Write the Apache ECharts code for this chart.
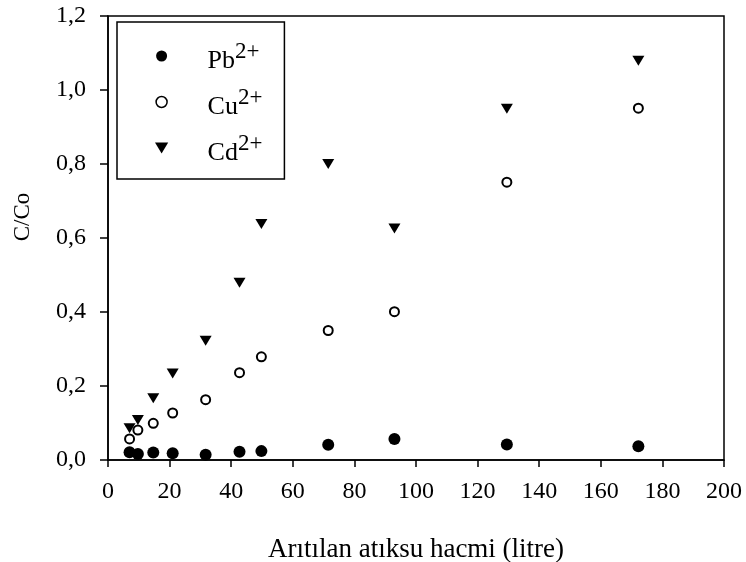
<!DOCTYPE html>
<html>
<head>
<meta charset="utf-8">
<script src="https://cdn.jsdelivr.net/npm/echarts@6/dist/echarts.min.js"></script>
<style>
html,body{margin:0;padding:0;background:#fff;}
#chart{width:746px;height:562px;}
</style>
</head>
<body>
<div id="chart"></div>
<script>
// ---- data ----
const volume = [7, 9.7, 14.7, 21, 31.7, 42.7, 49.8, 71.5, 93, 129.5, 172.2];
const pb = [0.021, 0.016, 0.020, 0.018, 0.014, 0.022, 0.024, 0.041, 0.057, 0.042, 0.037];
const cu = [0.057, 0.081, 0.099, 0.127, 0.163, 0.236, 0.279, 0.350, 0.401, 0.751, 0.951];
const cd = [0.086, 0.108, 0.167, 0.234, 0.322, 0.479, 0.638, 0.800, 0.626, 0.949, 1.079];
const seriesNames = ['Pb', 'Cu', 'Cd'];
const superscripts = ['2+', '2+', '2+'];
const xTickLabels = ['0','20','40','60','80','100','120','140','160','180','200'];
const yTickLabels = ['0,0','0,2','0,4','0,6','0,8','1,0','1,2'];
const xTitle = 'Arıtılan atıksu hacmi (litre)';
const yTitle = 'C/Co';

const FONT = '"Liberation Serif", "Times New Roman", serif';
const pairs = (ys) => volume.map((x, i) => [x, ys[i]]);
const triDown = 'path://M0,0L12,0L6,10Z';

const chart = echarts.init(document.getElementById('chart'), null, {renderer: 'canvas'});
chart.setOption({
  animation: false,
  backgroundColor: '#fff',
  grid: {
    left: 108, right: 22, top: 16, bottom: 102,
    outerBoundsMode: 'none', containLabel: false,
    show: true, borderColor: '#000', borderWidth: 1.5, backgroundColor: 'transparent'
  },
  xAxis: {
    type: 'value', min: 0, max: 200, interval: 20,
    name: xTitle, nameLocation: 'middle', nameGap: 76,
    nameTextStyle: {fontFamily: FONT, fontSize: 27, color: '#000'},
    axisLine: {lineStyle: {color: '#000', width: 1.5}},
    axisTick: {length: 7, lineStyle: {color: '#000', width: 1.5}},
    axisLabel: {
      margin: 20, fontFamily: FONT, fontSize: 24, color: '#000',
      formatter: (v) => xTickLabels[Math.round(v / 20)]
    },
    splitLine: {show: false}
  },
  yAxis: {
    type: 'value', min: 0, max: 1.2, interval: 0.2,
    name: yTitle, nameLocation: 'middle', nameGap: 74,
    nameTextStyle: {fontFamily: FONT, fontSize: 23, color: '#000', padding: [0, 0, 0, 42]},
    axisLine: {show: true, lineStyle: {color: '#000', width: 1.5}},
    axisTick: {show: true, length: 8, lineStyle: {color: '#000', width: 1.5}},
    axisLabel: {
      margin: 22, fontFamily: FONT, fontSize: 24, color: '#000',
      formatter: (v) => yTickLabels[Math.round(v / 0.2)]
    },
    splitLine: {show: false}
  },
  legend: {
    orient: 'vertical',
    left: 117, top: 22,
    padding: [16, 22, 13, 38],
    itemGap: 10,
    itemWidth: 82, itemHeight: 11,
    borderColor: '#000', borderWidth: 1.5,
    backgroundColor: '#fff',
    selectedMode: false,
    data: [
      {name: 'Pb', icon: 'circle', itemStyle: {color: '#000', borderWidth: 0}},
      {name: 'Cu', icon: 'circle', itemStyle: {color: '#fff', borderColor: '#000', borderWidth: 1.5}},
      {name: 'Cd', icon: triDown, itemStyle: {color: '#000', borderWidth: 0}}
    ],
    formatter: (name) => '{m|' + name + '}{s|' + superscripts[seriesNames.indexOf(name)] + '}',
    textStyle: {
      color: '#000',
      rich: {
        m: {fontFamily: FONT, fontSize: 26, color: '#000', lineHeight: 26, padding: [10, 0, 0, 0]},
        s: {fontFamily: FONT, fontSize: 23, color: '#000', lineHeight: 26, padding: [0, 0, 8, 0]}
      }
    }
  },
  series: [
    {
      name: seriesNames[0], type: 'scatter', data: pairs(pb),
      symbol: 'circle', symbolSize: 12,
      itemStyle: {color: '#000', opacity: 1}
    },
    {
      name: seriesNames[1], type: 'scatter', data: pairs(cu),
      symbol: 'circle', symbolSize: 9,
      itemStyle: {color: '#fff', borderColor: '#000', borderWidth: 2, opacity: 1}
    },
    {
      name: seriesNames[2], type: 'scatter', data: pairs(cd),
      symbol: triDown, symbolSize: [12, 10], symbolKeepAspect: false,
      itemStyle: {color: '#000', opacity: 1}
    }
  ]
});
</script>
</body>
</html>
